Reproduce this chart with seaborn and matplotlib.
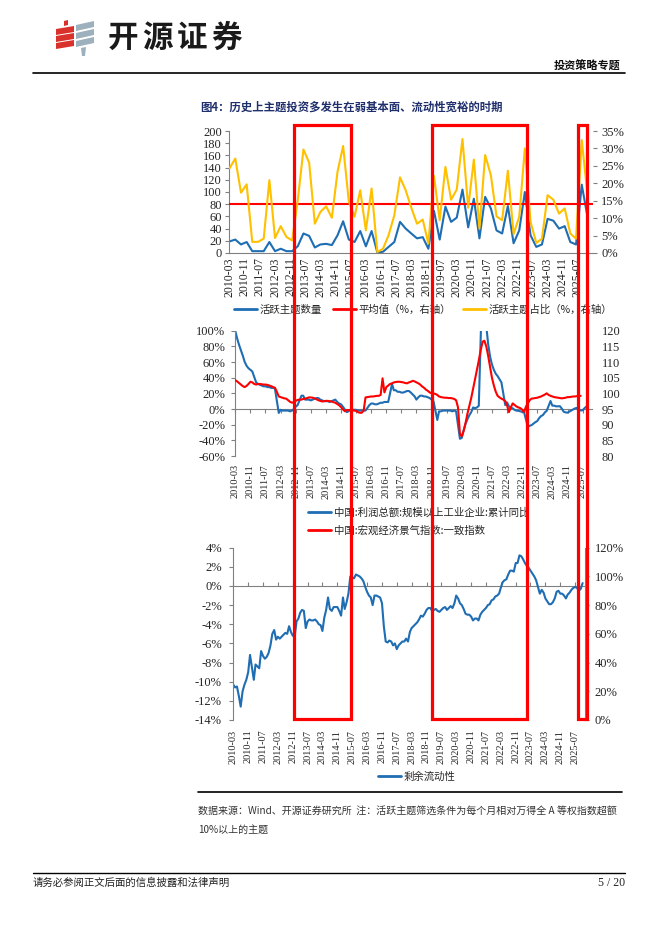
import numpy as np
import pandas as pd
import matplotlib
matplotlib.use("Agg")
import matplotlib.pyplot as plt
import matplotlib.dates as mdates
from matplotlib.lines import Line2D
from matplotlib.patches import Rectangle, Polygon
import seaborn as sns

sns.set_theme(style="white")
plt.rcParams['font.family'] = ['Liberation Serif', 'Noto Sans CJK SC', 'DejaVu Sans']
plt.rcParams['axes.unicode_minus'] = False

# ------------------------------------------------------------------ data
# Panel 1: quarterly, starting 2010-03
theme_start = "2010-03-01"
active_theme_count = [19, 22, 14, 18, 3, 3, 3, 18, 3, 7, 3, 3, 11, 32, 28, 9,
                      14, 15, 13, 29, 52, 22, 18, 36, 11, 36, 1, 2, 10, 18, 51, 40,
                      32, 24, 26, 7, 69, 22, 76, 51, 58, 104, 42, 89, 24, 92,
                      73, 37, 32, 77, 16, 37, 100, 29, 10, 14, 56, 53, 40, 44,
                      18, 14, 112, 60]
active_theme_share = [24.3, 27.1, 17.3, 19.7, 3.2, 3.2, 4.1, 20.9, 4.3, 7.7, 4.6, 3.6,
                      15.0, 29.7, 25.9, 8.4, 11.8, 13.4, 10.1, 23.3, 30.7, 14.7, 10.4, 18.0,
                      6.5, 18.5, 0.3, 1.2, 5.1, 10.8, 21.7, 18.0, 13.0, 8.4, 9.6, 2.7,
                      22.1, 9.4, 24.7, 15.3, 18.2, 32.7, 13.0, 26.8, 7.0, 28.1, 22.3, 10.5,
                      9.4, 23.6, 5.4, 10.4, 30.0, 8.9, 2.9, 4.1, 16.6, 15.3, 11.3, 12.8,
                      5.6, 4.1, 32.4, 17.0]
avg_share = 14.0

# Panel 2: industrial profit cumulative YoY (%), monthly excl. January, 2010-03 .. 2025-09
profit_yoy = [100, 90, 82, 75, 68, 60, 55, 52, 50, 48,
              34, 32, 31, 30, 29, 29, 28, 28, 27, 27, 26,
              -5, -1, -2, -2, -2, -2, -3, -2, 0, 3, 5,
              17, 17, 12, 12, 12, 11, 12, 13, 14, 14, 12,
              10, 10, 10, 9, 10, 11, 12, 9, 7, 6, 3,
              -4, -3, -1, -1, -1, -1, -2, -2, -2, -2, -2,
              5, 7, 7, 6, 6, 7, 8, 8, 9, 9, 9,
              32, 24, 24, 22, 22, 21, 21, 22, 23, 23, 21,
              16, 12, 15, 17, 17, 16, 16, 15, 14, 12, 10,
              -14, -3, -3, -2, -2, -2, -2, -2, -3, -2, -3,
              -38, -37, -27, -19, -13, -8, -4, 2, 1, 2, 4,
              179, 137, 106, 83, 67, 57, 50, 45, 42, 38, 34,
              5, 8.5, 3.5, 1, 1, -1.1, -2.1, -2.3, -3, -3.6, -4,
              -22.9, -21.4, -20.6, -18.8, -16.8, -15.5, -11.7, -9, -7.8, -4.4, -2.3,
              10.2, 4.3, 4.3, 3.4, 3.5, 3.6, 0.5, -3.5, -4.3, -4.7, -3.3,
              -0.3, 0.8, 1.4, -1.1, -1.8, -1.7, 0.9, 3.2]
profit_start, profit_end = "2010-03-01", "2025-09-01"

# Panel 2: macro climate coincident index, monthly 2010-03 .. 2025-06
climate_start = "2010-03-01"
climate_index = [104.2, 103.8, 103.3, 102.8, 102.3, 102.0, 102.4, 103.0, 103.7, 103.5,
                 103.0, 102.8, 103.0, 103.0, 102.9, 102.8, 102.8, 102.7, 102.5, 102.3, 102.0, 101.8,
                 100.5, 99.0, 98.8, 98.6, 98.4, 98.3, 97.8, 97.3, 97.0, 97.2, 97.6, 97.9,
                 98.0, 98.0, 98.2, 98.3, 98.5, 98.7, 98.7, 98.6, 98.4, 98.1, 97.8, 97.6,
                 97.4, 97.5, 97.6, 97.6, 97.5, 97.4, 97.2, 97.0, 96.6, 96.2, 95.6, 94.9,
                 94.3, 94.7, 94.6, 94.7, 94.6, 94.5, 94.4, 94.0, 93.8, 93.8, 94.5, 98.7,
                 98.8, 98.9, 99.0, 99.0, 99.1, 99.2, 99.2, 99.5, 104.8, 100.3, 102.0, 102.5,
                 103.0, 103.2, 103.5, 103.6, 103.7, 103.7, 103.6, 103.5, 103.3, 103.2, 103.5, 103.7,
                 104.0, 103.8, 103.5, 103.2, 102.8, 102.2, 101.8, 101.2, 100.8, 100.3, 100.0, 100.0,
                 99.8, 99.5, 99.0, 98.8, 98.7, 98.6, 98.6, 98.5, 98.5, 98.4, 98.2, 97.8,
                 95.5, 87.0, 86.3, 88.0, 90.5, 93.5, 96.0, 98.5, 101.5, 104.5, 107.5, 110.5,
                 113.8, 116.5, 116.8, 115.0, 112.0, 108.5, 105.0, 102.5, 100.5, 99.2, 98.7, 98.3,
                 98.0, 97.5, 96.2, 94.0, 95.5, 96.8, 96.3, 95.8, 95.5, 95.3, 94.8, 94.0,
                 95.8, 96.8, 97.8, 98.3, 98.4, 98.5, 98.6, 98.8, 99.0, 99.3, 99.6, 100.0,
                 99.5, 99.2, 99.0, 98.8, 98.7, 98.6, 98.5, 98.4, 98.5, 98.6, 98.8, 98.8,
                 98.9, 99.0, 99.0, 99.1, 99.2, 99.2]

# Panel 3: excess liquidity (%), monthly 2010-03 .. 2025-11
liquidity_start = "2010-03-01"
excess_liquidity = [-10.3, -10.6, -10.5, -11.5, -12.6, -11.0, -10.3, -9.8, -9.0, -7.2,
                    -8.5, -9.8, -8.2, -8.4, -8.6, -6.8, -7.3, -7.6, -7.4, -7.0, -6.2, -5.0,
                    -4.6, -5.6, -5.3, -5.5, -5.3, -5.1, -4.9, -5.0, -4.2, -4.8, -5.2, -5.3,
                    -3.7, -3.4, -2.8, -2.5, -2.6, -4.4, -3.7, -3.5, -3.6, -3.6, -3.5, -3.7,
                    -4.0, -4.1, -4.7, -3.3, -2.5, -1.2, -2.4, -2.6, -2.2, -2.2, -2.2, -2.6,
                    -3.1, -1.2, -2.4, -1.7, -0.8, 1.0, 0.9, 0.8, 1.2, 1.1, 1.0, 0.8,
                    0.5, -0.1, -0.6, -1.0, -1.2, -2.0, -1.0, -1.0, -1.1, -1.2, -1.8, -4.2,
                    -5.8, -5.9, -5.7, -5.8, -6.2, -6.0, -6.6, -6.2, -6.0, -5.8, -5.8, -5.5,
                    -5.8, -4.8, -4.4, -4.2, -4.0, -3.8, -3.5, -3.1, -3.2, -2.9, -2.5, -2.3,
                    -2.3, -2.6, -2.5, -2.4, -2.6, -2.7, -2.5, -2.3, -2.2, -2.5, -2.3, -2.1,
                    -2.3, -1.8, -1.0, -1.3, -1.8, -2.0, -2.4, -2.9, -3.0, -3.0, -3.2, -3.6,
                    -3.4, -3.4, -3.6, -3.0, -2.7, -2.5, -2.3, -2.0, -1.9, -1.5, -1.4, -1.1,
                    -1.0, -0.8, -0.2, 0.4, 0.6, 0.7, 1.2, 1.6, 1.6, 1.5, 2.4, 2.4,
                    3.2, 3.1, 2.8, 2.4, 2.1, 1.9, 1.6, 1.3, 1.0, 0.6, -0.1, -0.8,
                    -0.4, -0.7, -1.3, -1.6, -1.9, -1.9, -1.7, -1.3, -0.6, -0.5, -0.8, -0.8,
                    -1.0, -1.3, -0.9, -0.7, -0.4, -0.2, -0.1, -0.2, -0.5, -0.3, 0.3]

# highlighted periods (weak fundamentals, loose liquidity)
highlight_periods = [("2013-01-01", "2015-07-01"), ("2019-02-01", "2023-04-01"),
                     ("2025-07-01", "2025-12-01")]

tick_dates = pd.date_range("2010-03-01", "2025-07-01", freq="8MS")
tick_labels = [d.strftime("%Y-%m") for d in tick_dates]

p1_left_ticks = list(range(0, 201, 20))
p1_right_ticks = list(range(0, 36, 5))
p2_left_ticks = list(range(-60, 101, 20))
p2_right_ticks = list(range(80, 121, 5))
p3_left_ticks = list(range(-14, 5, 2))
p3_right_ticks = list(range(0, 121, 20))

legend1 = ["活跃主题数量", "平均值（%，右轴）", "活跃主题占比（%，右轴）"]
legend2 = ["中国:利润总额:规模以上工业企业:累计同比", "中国:宏观经济景气指数:一致指数"]
legend3 = ["剩余流动性"]

# ------------------------------------------------------------------ style
BLUE = "#1F6DB3"
RED = "#FF0000"
GOLD = "#FFC000"
GREY = "#808080"
NAVY = "#1F2F6B"
CJK = ["Noto Sans CJK SC", "DejaVu Sans"]
NUM = "Liberation Serif"

W, H = 662, 936
fig = plt.figure(figsize=(W / 100, H / 100), dpi=100)


def ax_px(left, top, right, bottom):
    return fig.add_axes([left / W, 1 - bottom / H, (right - left) / W, (bottom - top) / H])


def fy(y):
    return 1 - y / H


def fx(x):
    return x / W


def style_axis(ax):
    for s in ax.spines.values():
        s.set_visible(False)
    ax.grid(False)
    ax.set_facecolor("none")
    ax.set_xlabel("")
    ax.set_ylabel("")


def date_ticks(ax, pad, size):
    ax.set_xticks([d.to_pydatetime() for d in tick_dates])
    ax.set_xticklabels(tick_labels, rotation=90, fontsize=size, family=NUM)
    ax.tick_params(axis="x", length=0, pad=pad, labelbottom=True)


def zero_axis(ax, loc, direction):
    z = ax.secondary_xaxis(loc)
    z.set_xticks(mdates.date2num([d.to_pydatetime() for d in tick_dates]))
    z.set_xticklabels([""] * len(tick_dates))
    z.xaxis.set_ticks_position("bottom")
    z.tick_params(axis="x", length=3, width=0.8, color=GREY, direction=direction,
                  labelbottom=False, labeltop=False)
    for k, s in z.spines.items():
        s.set_visible(k == "bottom")
    z.spines["bottom"].set_color(GREY)
    z.spines["bottom"].set_linewidth(0.8)
    return z


# ------------------------------------------------------------------ panel 1
ax1 = ax_px(229, 131, 593, 253)
ax1b = ax1.twinx()
df1 = pd.DataFrame({"date": pd.date_range(theme_start, periods=len(active_theme_count), freq="3MS"),
                    "count": active_theme_count, "share": active_theme_share})
sns.lineplot(data=df1, x="date", y="count", ax=ax1, color=BLUE, lw=1.5, estimator=None)
ax1b.axhline(avg_share, color=RED, lw=1.5)
sns.lineplot(data=df1, x="date", y="share", ax=ax1b, color=GOLD, lw=1.5, estimator=None)
x0 = pd.Timestamp("2010-02-20")
x1 = pd.Timestamp("2026-03-01")
for a in (ax1, ax1b):
    style_axis(a)
    a.set_xlim(x0, x1)
ax1.set_ylim(0, 200)
ax1b.set_ylim(0, 35)
for k in ("left", "bottom"):
    ax1.spines[k].set_visible(True)
    ax1.spines[k].set_color(GREY)
    ax1.spines[k].set_linewidth(0.8)
ax1.set_yticks(p1_left_ticks)
ax1.set_yticklabels([str(v) for v in p1_left_ticks], fontsize=9, family=NUM)
ax1.tick_params(axis="y", length=3, width=0.8, color=GREY, pad=2, left=True)
ax1b.set_yticks(p1_right_ticks)
ax1b.set_yticklabels([f"{v}%" for v in p1_right_ticks], fontsize=9, family=NUM)
ax1b.tick_params(axis="y", length=3, width=0.8, color=GREY, pad=3, right=True)
date_ticks(ax1, pad=3, size=8.5)

# ------------------------------------------------------------------ panel 2
ax2 = ax_px(235, 330.7, 592, 456)
ax2b = ax2.twinx()
prof_dates = [d for d in pd.date_range(profit_start, profit_end, freq="MS") if d.month != 1]
df2a = pd.DataFrame({"date": prof_dates, "v": profit_yoy})
df2b = pd.DataFrame({"date": pd.date_range(climate_start, periods=len(climate_index), freq="MS"),
                     "v": climate_index})
sns.lineplot(data=df2a, x="date", y="v", ax=ax2, color=BLUE, lw=1.5, estimator=None)
sns.lineplot(data=df2b, x="date", y="v", ax=ax2b, color=RED, lw=1.5, estimator=None)
x0b = pd.Timestamp("2010-02-25")
x1b = pd.Timestamp("2025-12-01")
for a in (ax2, ax2b):
    style_axis(a)
    a.set_xlim(x0b, x1b)
ax2.set_ylim(-60, 100)
ax2b.set_ylim(80, 120)
ax2.spines["left"].set_visible(True)
ax2.spines["left"].set_color(GREY)
ax2.spines["left"].set_linewidth(0.8)
ax2.set_yticks(p2_left_ticks)
ax2.set_yticklabels([f"{v}%" for v in p2_left_ticks], fontsize=9, family=NUM)
ax2.tick_params(axis="y", length=3, width=0.8, color=GREY, pad=4, left=True)
ax2b.set_yticks(p2_right_ticks)
ax2b.set_yticklabels([str(v) for v in p2_right_ticks], fontsize=9, family=NUM)
ax2b.tick_params(axis="y", length=0, pad=7, right=True)
date_ticks(ax2, pad=6, size=7.4)
zero_axis(ax2, (0 - (-60)) / 160, "out")

# ------------------------------------------------------------------ panel 3
ax3 = ax_px(233, 547.7, 585, 720)
ax3b = ax3.twinx()
df3 = pd.DataFrame({"date": pd.date_range(liquidity_start, periods=len(excess_liquidity), freq="MS"),
                    "v": excess_liquidity})
sns.lineplot(data=df3, x="date", y="v", ax=ax3, color=BLUE, lw=1.5, estimator=None)
x0c = pd.Timestamp("2010-02-25")
x1c = pd.Timestamp("2025-12-10")
for a in (ax3, ax3b):
    style_axis(a)
    a.set_xlim(x0c, x1c)
ax3.set_ylim(-14, 4)
ax3b.set_ylim(0, 120)
for a, k in ((ax3, "left"), (ax3b, "right")):
    a.spines[k].set_visible(True)
    a.spines[k].set_color(GREY)
    a.spines[k].set_linewidth(0.8)
ax3.set_yticks(p3_left_ticks)
ax3.set_yticklabels([f"{v}%" for v in p3_left_ticks], fontsize=9, family=NUM)
ax3.tick_params(axis="y", length=3, width=0.8, color=GREY, pad=5, left=True)
ax3b.set_yticks(p3_right_ticks)
ax3b.set_yticklabels([f"{v}%" for v in p3_right_ticks], fontsize=9, family=NUM)
ax3b.tick_params(axis="y", length=3, width=0.8, color=GREY, pad=4, right=True)
date_ticks(ax3, pad=7, size=7.4)
zero_axis(ax3, (0 - (-14)) / 18, "in")

# ------------------------------------------------------------------ legends
leg_kw = dict(frameon=False, borderpad=0, handlelength=2.2, handletextpad=0.25,
              prop={"family": CJK, "size": 7.5})
h1 = [Line2D([], [], color=c, lw=2) for c in (BLUE, RED, GOLD)]
fig.legend(h1, legend1, loc="center left", bbox_to_anchor=(fx(229), fy(310)), ncol=3,
           columnspacing=1.1, **leg_kw)
h2 = [Line2D([], [], color=c, lw=2) for c in (BLUE, RED)]
fig.legend(h2, legend2, loc="center left", bbox_to_anchor=(fx(303), fy(521.5)), ncol=1,
           labelspacing=0.75, **leg_kw)
h3 = [Line2D([], [], color=BLUE, lw=2)]
fig.legend(h3, legend3, loc="center left", bbox_to_anchor=(fx(373), fy(777)), **leg_kw)

# ------------------------------------------------------------------ highlight rectangles
fig.canvas.draw()
for s, e in highlight_periods:
    xs = ax1.transData.transform((mdates.date2num(pd.Timestamp(s).to_pydatetime()), 0))[0]
    xe = ax1.transData.transform((mdates.date2num(pd.Timestamp(e).to_pydatetime()), 0))[0]
    xs_f = fig.transFigure.inverted().transform((xs, 0))[0]
    xe_f = fig.transFigure.inverted().transform((xe, 0))[0]
    fig.add_artist(Rectangle((xs_f, fy(719)), xe_f - xs_f, fy(125) - fy(719),
                             transform=fig.transFigure, fill=False, ec=RED, lw=2.3, zorder=50))

# ------------------------------------------------------------------ page decoration
red_bars = [[(64, 21), (68, 20), (68, 25), (64, 26)],
            [(56, 29), (74, 26), (74, 32), (56, 35)],
            [(56, 36), (74, 33), (74, 39), (56, 42)],
            [(56, 43), (74, 40), (74, 46), (56, 49)]]
grey_bars = [[(76, 25), (94, 21), (94, 27), (76, 31)],
             [(76, 33), (94, 29), (94, 35), (76, 39)],
             [(76, 41), (94, 37), (94, 43), (76, 47)],
             [(81, 48), (86, 47), (85, 56), (82, 56)]]
for pts in red_bars:
    fig.add_artist(Polygon([(fx(x), fy(y)) for x, y in pts], closed=True,
                           transform=fig.transFigure, fc="#D9312B", ec="none"))
for pts in grey_bars:
    fig.add_artist(Polygon([(fx(x), fy(y)) for x, y in pts], closed=True,
                           transform=fig.transFigure, fc="#9DB0BD", ec="none"))
for i, ch in enumerate("开源证券"):
    fig.text(fx(108 + i * 34.5), fy(38), ch, family=CJK, fontsize=22, fontweight="bold",
             color="#1A1A1A", va="center", ha="left")

fig.text(fx(620), fy(66), "投资策略专题", family=CJK, fontsize=8, fontweight="bold",
         ha="right", va="center", color="#111111")
fig.add_artist(Line2D([fx(33), fx(625)], [fy(73), fy(73)], transform=fig.transFigure,
                      color="black", lw=1.2))
fig.text(fx(200), fy(107), "图4：历史上主题投资多发生在弱基本面、流动性宽裕的时期",
         family=CJK, fontsize=8.2, fontweight="bold", color=NAVY, va="center", ha="left")

fig.add_artist(Line2D([fx(198), fx(622)], [fy(792), fy(792)], transform=fig.transFigure,
                      color="black", lw=1.2))
fig.text(fx(198), fy(812),
         "数据来源：Wind、开源证券研究所  注：活跃主题筛选条件为每个月相对万得全 A 等权指数超额",
         family=CJK, fontsize=7.2, color="#333333", va="center", ha="left")
fig.text(fx(198), fy(830), "10%以上的主题", family=CJK, fontsize=7.2, color="#333333",
         va="center", ha="left")

fig.add_artist(Line2D([fx(33), fx(625)], [fy(873), fy(873)], transform=fig.transFigure,
                      color="black", lw=1.0))
fig.text(fx(33), fy(883), "请务必参阅正文后面的信息披露和法律声明", family=CJK, fontsize=7.5,
         color="#222222", va="center", ha="left")
fig.text(fx(625), fy(883), "5 / 20", family=NUM, fontsize=8.5, color="#222222",
         va="center", ha="right")

fig.savefig("out.png", dpi=100, facecolor="white")
